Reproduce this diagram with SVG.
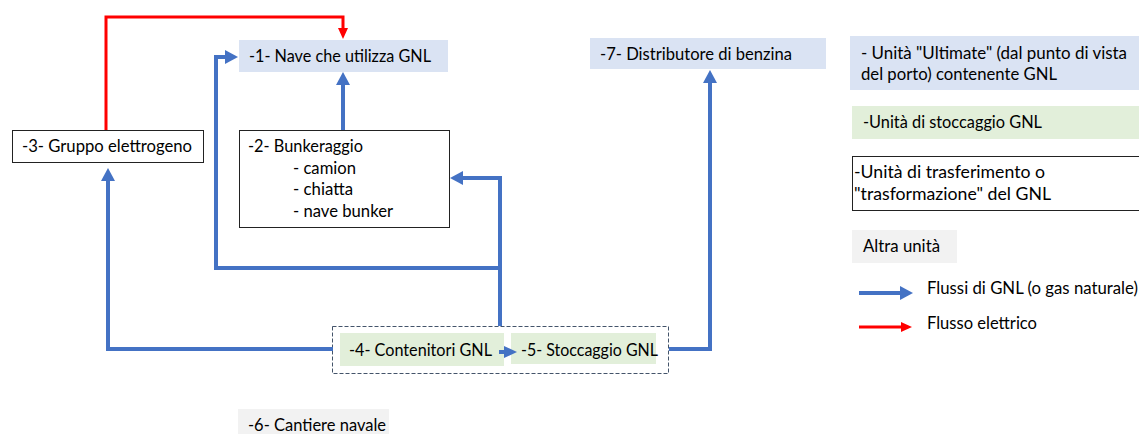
<svg xmlns="http://www.w3.org/2000/svg" width="1139" height="434" viewBox="0 0 1139 434">
  <style>
    text { font-family: Lato, "Open Sans", "Liberation Sans", sans-serif; font-size: 17px; fill: #000; }
    .ultimate { fill: #DAE3F3; }
    .storage { fill: #E2EFDA; }
    .transfer { fill: #FFFFFF; stroke: #222; stroke-width: 1; }
    .other { fill: #F2F2F2; }
    .gas { fill: none; stroke: #4472C4; stroke-width: 4; stroke-linejoin: miter; }
    .power { fill: none; stroke: #FF0000; stroke-width: 3; stroke-linejoin: miter; }
    .group { fill: none; stroke: #44546A; stroke-width: 1; stroke-dasharray: 4 2; }
  </style>
  <defs>
    <marker id="gasHead" markerUnits="userSpaceOnUse" markerWidth="14" markerHeight="14" refX="0" refY="7" orient="auto">
      <path d="M0,0 L13,7 L0,14 Z" fill="#4472C4"/>
    </marker>
    <marker id="gasHeadSmall" markerUnits="userSpaceOnUse" markerWidth="13" markerHeight="12" refX="0" refY="6" orient="auto">
      <path d="M0,0 L13,6 L0,12 Z" fill="#4472C4"/>
    </marker>
    <marker id="powerHead" markerUnits="userSpaceOnUse" markerWidth="11" markerHeight="10" refX="0" refY="5" orient="auto">
      <path d="M0,0 L11,5 L0,10 Z" fill="#FF0000"/>
    </marker>
  </defs>

  <rect width="1139" height="434" fill="#FFFFFF"/>

  <!-- grouping frame around containers and storage -->
  <rect class="group" x="332.5" y="326.5" width="336" height="47"/>

  <g id="node1">
    <rect class="ultimate" x="239" y="40" width="209" height="32"/>
    <text x="249" y="62" textLength="182" lengthAdjust="spacingAndGlyphs">-1- Nave che utilizza GNL</text>
  </g>

  <g id="node2">
    <rect class="transfer" x="239.5" y="130.5" width="210" height="97"/>
    <text x="248" y="152" textLength="115" lengthAdjust="spacingAndGlyphs">-2- Bunkeraggio</text>
    <text x="293" y="174" textLength="63" lengthAdjust="spacingAndGlyphs">- camion</text>
    <text x="293" y="195" textLength="60" lengthAdjust="spacingAndGlyphs">- chiatta</text>
    <text x="293" y="217" textLength="100" lengthAdjust="spacingAndGlyphs">- nave bunker</text>
  </g>

  <g id="node3">
    <rect class="transfer" x="12.5" y="130.5" width="191" height="32"/>
    <text x="22" y="152" textLength="170" lengthAdjust="spacingAndGlyphs">-3- Gruppo elettrogeno</text>
  </g>

  <g id="node4">
    <rect class="storage" x="340" y="333" width="164" height="33"/>
    <text x="349" y="356" textLength="143" lengthAdjust="spacingAndGlyphs">-4- Contenitori GNL</text>
  </g>

  <g id="node5">
    <rect class="storage" x="511" y="333" width="145" height="31"/>
    <text x="521" y="356" textLength="137" lengthAdjust="spacingAndGlyphs">-5- Stoccaggio GNL</text>
  </g>

  <g id="node6">
    <rect class="other" x="238" y="409" width="151" height="30"/>
    <text x="248" y="431" textLength="138" lengthAdjust="spacingAndGlyphs">-6- Cantiere navale</text>
  </g>

  <g id="node7">
    <rect class="ultimate" x="590" y="38" width="236" height="31"/>
    <text x="600" y="60" textLength="192" lengthAdjust="spacingAndGlyphs">-7- Distributore di benzina</text>
  </g>

  <g id="connectors">
    <!-- electric supply from the generator set to the ship -->
    <path class="power" d="M106,130 V17 H343 V28" marker-end="url(#powerHead)"/>
    <!-- bunkering to ship -->
    <path class="gas" d="M343,130 V85" marker-end="url(#gasHead)"/>
    <!-- storage branch up to bunkering -->
    <path class="gas" d="M500,326 V178 H463" marker-end="url(#gasHead)"/>
    <!-- storage branch round to the ship -->
    <path class="gas" d="M500,268 H216 V57 H225" marker-end="url(#gasHead)"/>
    <!-- storage to generator set -->
    <path class="gas" d="M333,349 H108 V181" marker-end="url(#gasHead)"/>
    <!-- storage to fuel station -->
    <path class="gas" d="M669,349 H710 V83" marker-end="url(#gasHead)"/>
    <!-- containers to storage -->
    <path class="gas" d="M499,352 H504" marker-end="url(#gasHeadSmall)"/>
  </g>

  <g id="legend">
    <rect class="ultimate" x="850" y="36" width="295" height="54"/>
    <text x="861" y="59" textLength="266" lengthAdjust="spacingAndGlyphs">- Unità "Ultimate"  (dal punto di vista</text>
    <text x="861" y="80" textLength="196" lengthAdjust="spacingAndGlyphs">del porto) contenente GNL</text>

    <rect class="storage" x="852" y="106" width="293" height="33"/>
    <text x="863" y="128" textLength="179" lengthAdjust="spacingAndGlyphs">-Unità di stoccaggio GNL</text>

    <rect class="transfer" x="852.5" y="156.5" width="300" height="54"/>
    <text x="854" y="178" textLength="191" lengthAdjust="spacingAndGlyphs">-Unità di trasferimento o</text>
    <text x="854" y="200" textLength="197" lengthAdjust="spacingAndGlyphs">"trasformazione" del GNL</text>

    <rect class="other" x="852" y="230" width="105" height="33"/>
    <text x="863" y="252" textLength="77" lengthAdjust="spacingAndGlyphs">Altra unità</text>

    <path class="gas" d="M859,293 H900" marker-end="url(#gasHead)"/>
    <text x="927" y="294" textLength="211" lengthAdjust="spacingAndGlyphs">Flussi di GNL (o gas naturale)</text>

    <path class="power" d="M859,327 H901" marker-end="url(#powerHead)"/>
    <text x="927" y="329" textLength="110" lengthAdjust="spacingAndGlyphs">Flusso elettrico</text>
  </g>
</svg>
